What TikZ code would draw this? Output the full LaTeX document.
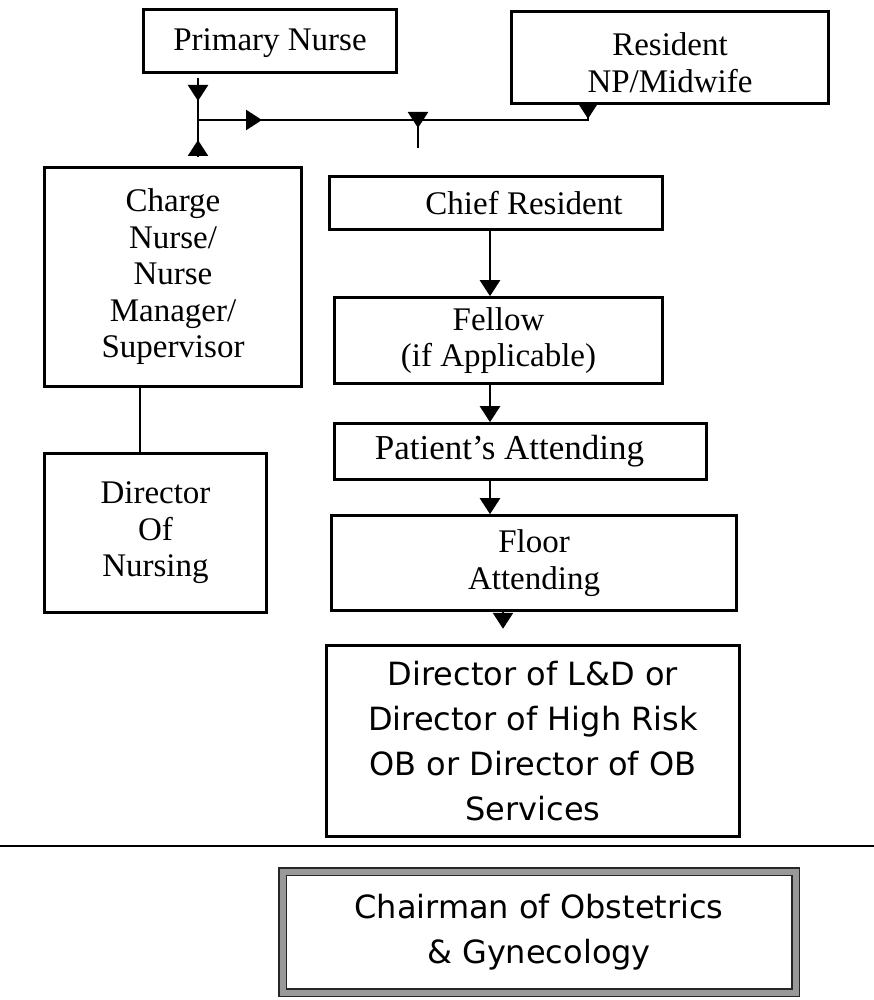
\documentclass[tikz,border=0pt]{standalone}
\usepackage{fontspec}
\setmainfont{Liberation Serif}
\newfontfamily\obfont{DejaVu Sans}
\usetikzlibrary{arrows.meta, positioning}

\begin{document}
\begin{tikzpicture}[x=1pt, y=-1pt,
        box/.style={draw, line width=2.6pt, rectangle, align=center, inner sep=0pt,
            font=\fontsize{33}{36.5}\selectfont},
        sansbox/.style={box, font=\obfont\fontsize{32}{45}\selectfont},
        link/.style={line width=2.4pt},
        tip/.style={link, -{Triangle[width=20pt, length=16pt]}}]
        \useasboundingbox (0,0) rectangle (874,1000);

        % Define the nodes
        \node[box, minimum width=253pt, minimum height=63pt] (pn) at (270,41) {\rule{0pt}{27pt}Primary Nurse};
        \node[box, minimum width=317pt, minimum height=92pt] (res) at (670,57.5) {\rule{0pt}{33pt}Resident\\NP/Midwife};
        \node[box, minimum width=257pt, minimum height=219pt] (charge) at (173,277) {Charge\\Nurse/\\Nurse\\Manager/\\Supervisor};
        \node[box, minimum width=222pt, minimum height=159pt] (dn) at (155.5,533) {Director\\Of\\Nursing};
        \node[box, minimum width=333pt, minimum height=53pt] (chief) at (496,203) {\hspace*{56pt}Chief Resident};
        \node[box, minimum width=328pt, minimum height=86pt] (fellow) at (498.5,340.5) {Fellow\\(if Applicable)};
        \node[box, minimum width=372pt, minimum height=56pt, font=\fontsize{35}{38}\selectfont] (pat) at (520.5,451.5) {Patient’s Attending\hspace*{22pt}};
        \node[box, minimum width=405pt, minimum height=95pt] (floor) at (534,563) {Floor\\Attending};
        \node[sansbox, minimum width=413pt, minimum height=191pt] (lnd) at (533,741) {Director of L\&D or\\Director of High Risk\\OB or Director of OB\\Services};
        \node[sansbox, draw=black!85, line width=1.6pt, double=gray!80, double distance=6pt,
            minimum width=513pt, minimum height=121pt] (chair) at (539,932) {Chairman of Obstetrics\\\& Gynecology};

        % Define the junction points
        \coordinate (jn) at (198,120);
        \coordinate (jtop) at (198,78);
        \coordinate (jbot) at (198,157);
        \coordinate (jres) at (588,120);
        \coordinate (jt) at (418,120);
        \coordinate (jtend) at (418,148);
        \coordinate (dnx) at (140,0);
        \coordinate (colx) at (490,0);
        \coordinate (flx) at (503,0);
        \coordinate (divl) at (0,846);
        \coordinate (divr) at (874,846);

        % Define the connectors
        \draw[link] (jtop) -- (jbot);
        \draw[tip] (jtop) -- ++(0,23);
        \draw[tip] (jbot) -- ++(0,-17);
        \draw[link] (jn) -- (jres) -- (jres |- res.south);
        \draw[tip] (jn) -- ++(64,0);
        \draw[link] (jt) -- (jtend);
        \draw[tip] (jt) ++(0,-8) -- ++(0,16);
        \draw[tip] (jres |- res.south) -- ++(0,14);
        \draw[link] (charge.south -| dnx) -- (dn.north -| dnx);
        \draw[tip] (chief.south -| colx) -- (fellow.north -| colx);
        \draw[tip] (fellow.south -| colx) -- (pat.north -| colx);
        \draw[tip] (pat.south -| colx) -- (floor.north -| colx);
        \draw[tip] (floor.south -| flx) -- ++(0,17);
        \draw[line width=2.8pt] (divl) -- (divr);
\end{tikzpicture}
\end{document}
